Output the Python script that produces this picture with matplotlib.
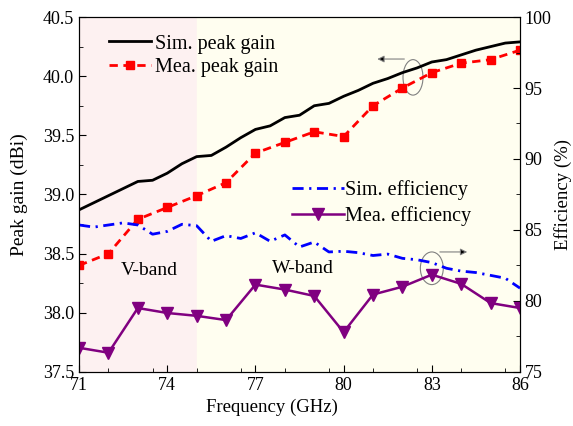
import matplotlib
matplotlib.use("Agg")
import matplotlib.pyplot as plt
from matplotlib.patches import Ellipse
from matplotlib.ticker import MultipleLocator

plt.rcParams['font.family'] = ['Liberation Serif', 'DejaVu Serif']
plt.rcParams['mathtext.fontset'] = 'stix'

# measured data, 1 GHz step
freq_mea = [71, 72, 73, 74, 75, 76, 77, 78, 79, 80, 81, 82, 83, 84, 85, 86]
gain_mea = [38.40, 38.50, 38.79, 38.89, 38.99, 39.10, 39.35, 39.44, 39.53, 39.49,
            39.75, 39.90, 40.03, 40.11, 40.14, 40.22]
eff_mea = [76.7, 76.35, 79.5, 79.15, 78.95, 78.65, 81.15, 80.8, 80.35, 77.8,
           80.45, 81.0, 81.85, 81.2, 79.85, 79.5]

# simulated data, 0.5 GHz step
freq_sim = [71.0, 71.5, 72.0, 72.5, 73.0, 73.5, 74.0, 74.5, 75.0, 75.5, 76.0,
            76.5, 77.0, 77.5, 78.0, 78.5, 79.0, 79.5, 80.0, 80.5, 81.0, 81.5,
            82.0, 82.5, 83.0, 83.5, 84.0, 84.5, 85.0, 85.5, 86.0]
gain_sim = [38.87, 38.93, 38.99, 39.05, 39.11, 39.12, 39.18, 39.26, 39.32, 39.33,
            39.40, 39.48, 39.55, 39.58, 39.65, 39.67, 39.75, 39.77, 39.83, 39.88,
            39.94, 39.98, 40.03, 40.07, 40.12, 40.14, 40.18, 40.22, 40.25, 40.28,
            40.29]
eff_sim = [85.35, 85.2, 85.35, 85.5, 85.35, 84.7, 84.9, 85.4, 85.3, 84.2, 84.6,
           84.4, 84.8, 84.2, 84.65, 83.8, 84.15, 83.45, 83.5, 83.4, 83.2, 83.3,
           83.0, 82.9, 82.7, 82.3, 82.1, 82.0, 81.8, 81.6, 80.9]

fig = plt.figure(figsize=(5.73, 4.26), dpi=100)
ax1 = fig.add_axes([0.138, 0.127, 0.7695, 0.833])
ax2 = ax1.twinx()

ax1.axvspan(71, 75, color='#fdf1f1', zorder=0)
ax1.axvspan(75, 86, color='#fffef0', zorder=0)

l1, = ax1.plot(freq_sim, gain_sim, color='black', lw=2, label='Sim. peak gain')
l2, = ax1.plot(freq_mea, gain_mea, color='red', lw=2, ls=(0, (3, 2)),
               marker='s', ms=6, label='Mea. peak gain')
l3, = ax2.plot(freq_sim, eff_sim, color='blue', lw=2, ls=(0, (4, 2, 0.8, 2)),
               label='Sim. efficiency')
l4, = ax2.plot(freq_mea, eff_mea, color='#800080', lw=1.8, marker='v', ms=8,
               label='Mea. efficiency')

ax1.set_xlim(71, 86)
ax1.set_ylim(37.5, 40.5)
ax2.set_ylim(75, 100)
ax1.set_xticks([71, 74, 77, 80, 83, 86])
ax1.xaxis.set_minor_locator(MultipleLocator(1.5))
ax1.yaxis.set_major_locator(MultipleLocator(0.5))
ax1.yaxis.set_minor_locator(MultipleLocator(0.25))
ax2.yaxis.set_major_locator(MultipleLocator(5))
ax2.yaxis.set_minor_locator(MultipleLocator(2.5))

ax1.tick_params(which='both', direction='in', labelsize=13, top=False)
ax1.tick_params(which='major', length=5)
ax1.tick_params(which='minor', length=3)
ax2.tick_params(which='both', direction='in', labelsize=13)
ax2.tick_params(which='major', length=5)
ax2.tick_params(which='minor', length=3)

ax1.set_xlabel('Frequency (GHz)', fontsize=13.5)
ax1.xaxis.set_label_coords(0.438, -0.075, transform=ax1.transAxes)
ax1.xaxis.label.set_va('top')
ax1.set_ylabel('Peak gain (dBi)', fontsize=14, labelpad=11)
ax2.set_ylabel('Efficiency (%)', fontsize=13.5, labelpad=2)

ax1.text(73.4, 38.36, 'V-band', fontsize=14, ha='center', va='center')
ax1.text(78.6, 38.37, 'W-band', fontsize=14, ha='center', va='center')

ax1.add_patch(Ellipse((82.36, 39.99), 0.68, 0.30, fill=False, ec='gray', lw=0.8))
ax1.annotate('', xy=(81.05, 40.145), xytext=(82.16, 40.145),
             arrowprops=dict(arrowstyle='-|>', color='gray', lw=0.8,
                             mutation_scale=10, fc='black'))
ax2.add_patch(Ellipse((83.0, 82.3), 0.78, 2.3, fill=False, ec='gray', lw=0.8))
ax2.annotate('', xy=(84.3, 83.45), xytext=(83.18, 83.45),
             arrowprops=dict(arrowstyle='-|>', color='gray', lw=0.8,
                             mutation_scale=10, fc='black'))

ax1.legend(handles=[l1, l2], loc='upper left', bbox_to_anchor=(0.04, 0.985),
           frameon=False, fontsize=14.5, handlelength=2.1, handletextpad=0.2,
           borderaxespad=0.2, labelspacing=0.2)
ax2.legend(handles=[l3, l4], loc='upper left', bbox_to_anchor=(0.455, 0.575),
           frameon=False, fontsize=14.5, handlelength=2.6, handletextpad=0.05,
           borderaxespad=0.2, labelspacing=0.3)

ax1.set_zorder(ax2.get_zorder() - 1)
ax2.patch.set_visible(False)

fig.savefig('out.png', dpi=100)
